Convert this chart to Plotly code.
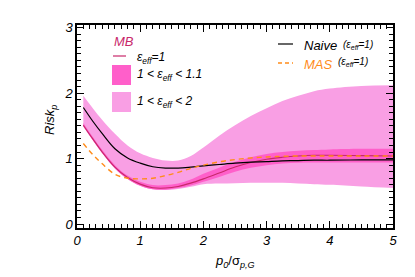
import plotly.graph_objects as go

# ---------------- data ----------------
x_grid = [0.1, 0.25, 0.4, 0.6, 0.8, 1.0, 1.2, 1.4, 1.6, 1.8, 2.0, 2.25, 2.5,
          2.75, 3.0, 3.25, 3.5, 3.75, 4.0, 4.5, 5.0]

naive = [1.78, 1.57, 1.38, 1.15, 1.01, 0.93, 0.875, 0.855, 0.855, 0.87, 0.89,
         0.91, 0.93, 0.945, 0.955, 0.965, 0.97, 0.975, 0.975, 0.98, 0.98]

mb = [1.51, 1.30, 1.10, 0.87, 0.71, 0.61, 0.555, 0.55, 0.575, 0.625, 0.69,
      0.78, 0.87, 0.94, 0.99, 1.02, 1.04, 1.05, 1.05, 1.045, 1.04]

mas = [1.23, 1.06, 0.92, 0.76, 0.70, 0.69, 0.70, 0.74, 0.79, 0.85, 0.90,
       0.95, 0.985, 1.01, 1.025, 1.035, 1.04, 1.04, 1.04, 1.04, 1.04]

outer_lo = [1.49, 1.28, 1.08, 0.85, 0.69, 0.585, 0.53, 0.52, 0.535, 0.57, 0.61,
            0.62, 0.625, 0.63, 0.63, 0.63, 0.62, 0.61, 0.60, 0.575, 0.55]
outer_hi = [1.96, 1.77, 1.59, 1.38, 1.20, 1.08, 1.01, 0.97, 0.97, 1.04, 1.17,
            1.35, 1.51, 1.65, 1.77, 1.88, 1.96, 2.03, 2.07, 2.11, 2.12]

inner_lo = [1.49, 1.28, 1.08, 0.85, 0.69, 0.585, 0.53, 0.525, 0.55, 0.59, 0.645,
            0.72, 0.80, 0.86, 0.90, 0.925, 0.935, 0.94, 0.94, 0.94, 0.94]
inner_hi = [1.545, 1.33, 1.13, 0.90, 0.74, 0.645, 0.595, 0.595, 0.62, 0.68, 0.77,
            0.86, 0.95, 1.02, 1.07, 1.10, 1.12, 1.13, 1.14, 1.15, 1.15]

x_ticks = [0, 1, 2, 3, 4, 5]
y_ticks = [0, 1, 2, 3]

# ---------------- style ----------------
LIGHT = "#F99FE4"
DARK = "#FF5FCA"
CRIMSON = "#C8286A"
ORANGE = "#FF8C1A"
FONT = "Liberation Sans"

fig = go.Figure()

def band(lo, hi, color):
    fig.add_trace(go.Scatter(x=x_grid, y=lo, mode="lines", line=dict(width=0, shape="spline"),
                             showlegend=False, hoverinfo="skip"))
    fig.add_trace(go.Scatter(x=x_grid, y=hi, mode="lines", line=dict(width=0, shape="spline"),
                             fill="tonexty", fillcolor=color, showlegend=False, hoverinfo="skip"))

band(outer_lo, outer_hi, LIGHT)
band(inner_lo, inner_hi, DARK)

fig.add_trace(go.Scatter(x=x_grid, y=mb, mode="lines",
                         line=dict(color=CRIMSON, width=1.1, shape="spline"), showlegend=False))
fig.add_trace(go.Scatter(x=x_grid, y=naive, mode="lines",
                         line=dict(color="black", width=1.2, shape="spline"), showlegend=False))
fig.add_trace(go.Scatter(x=x_grid, y=mas, mode="lines",
                         line=dict(color=ORANGE, width=1.4, shape="spline", dash="5px,4px"),
                         showlegend=False))

# plot area in pixels
L, R, T, B = 77, 393, 25, 228
W, H = R - L, B - T

def px(xp):
    return (xp - L) / W

def py(yp):
    return (B - yp) / H

ann = []
def text(xp, yp, s, size, color="black", anchor="left", textangle=0):
    ann.append(dict(x=px(xp), y=py(yp), xref="paper", yref="paper", text=s, showarrow=False,
                    xanchor=anchor, yanchor="middle", textangle=textangle,
                    font=dict(family=FONT, size=size, color=color)))

shapes = []
def hline(x0, x1, yp, color, width, dash=None):
    shapes.append(dict(type="line", xref="paper", yref="paper", x0=px(x0), x1=px(x1),
                       y0=py(yp), y1=py(yp), line=dict(color=color, width=width, dash=dash)))

def box(x0, x1, y0, y1, color):
    shapes.append(dict(type="rect", xref="paper", yref="paper", x0=px(x0), x1=px(x1),
                       y0=py(y0), y1=py(y1), fillcolor=color, line=dict(width=0)))

# left legend
text(124, 41, "<i>MB</i>", 13, CRIMSON, anchor="center")
hline(113, 126, 56, CRIMSON, 1.2)
text(135, 58, "<i>ε<sub>eff</sub>=1</i>", 12)
box(112, 131, 65, 85, DARK)
text(135, 75, "<i>1 &lt; ε<sub>eff</sub> &lt; 1.1</i>", 12)
box(112, 131, 92, 112, LIGHT)
text(135, 102, "<i>1 &lt; ε<sub>eff</sub> &lt; 2</i>", 12)

# right legend
hline(278, 293, 44, "black", 1.2)
text(302, 45, "<i>Naive</i>", 13)
text(341, 45, "<i>(ε<sub>eff</sub>=1)</i>", 10)
hline(278, 293, 63, ORANGE, 1.4, dash="4px,3px")
text(302, 64, "<i>MAS</i>", 13, ORANGE)
text(336, 62, "<i>(ε<sub>eff</sub>=1)</i>", 10)

# axis titles
text(235, 261, "<i>p<sub>0</sub></i>/σ<sub><i>p,G</i></sub>", 13, anchor="center")
text(50, 120, "<i>Risk<sub>p</sub></i>", 13, anchor="center", textangle=-90)

axis_common = dict(
    showline=True, linecolor="black", linewidth=1.5, mirror="allticks",
    ticks="inside", ticklen=7, tickwidth=1, tickcolor="black",
    showgrid=False, zeroline=False, automargin=False,
    tickfont=dict(family=FONT, size=13, color="black", style="italic"),
    minor=dict(dtick=0.1, ticks="inside", ticklen=4, tickwidth=1, tickcolor="black", showgrid=False),
)

fig.update_layout(
    width=415, height=277,
    margin=dict(l=L, r=415 - R, t=T, b=277 - B, autoexpand=False),
    paper_bgcolor="white", plot_bgcolor="white",
    showlegend=False,
    xaxis=dict(range=[0, 5], tickvals=x_ticks, ticktext=[str(v) for v in x_ticks], **axis_common),
    yaxis=dict(range=[-0.06, 3.04], tickvals=y_ticks, ticktext=[str(v) for v in y_ticks],
               **axis_common),
    annotations=ann, shapes=shapes,
)

fig.write_html("out.html", config={"displayModeBar": False},
               post_script="document.body.style.margin='0px';document.body.style.overflow='hidden';")
